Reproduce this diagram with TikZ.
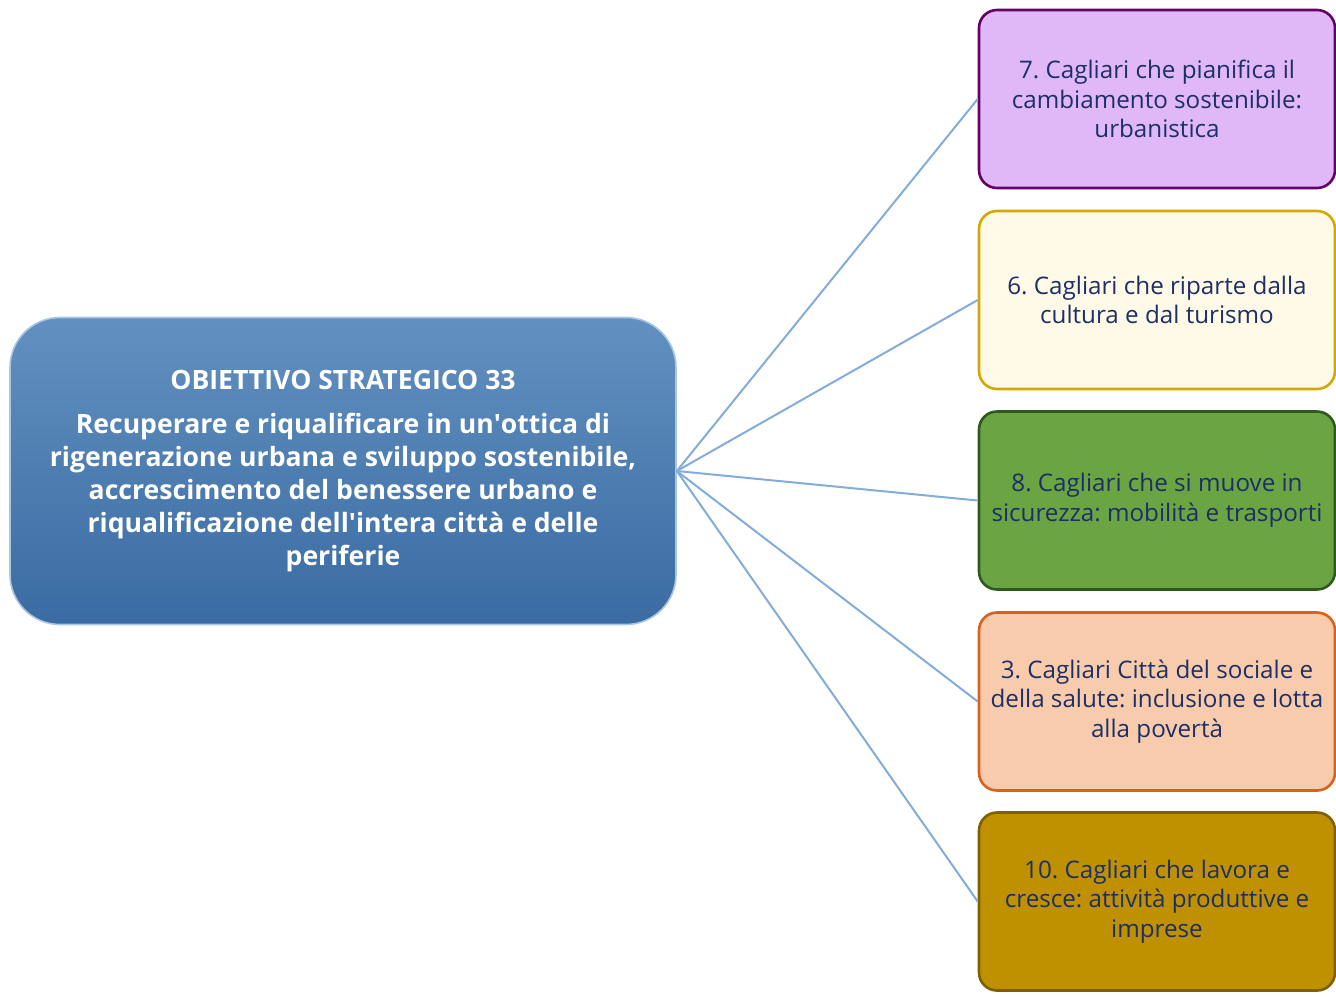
\documentclass[tikz,border=0pt]{standalone}
\usepackage{fontspec}
\setmainfont{Open Sans}
\usetikzlibrary{positioning}
\definecolor{linkblue}{HTML}{83ACDB}
\definecolor{navytext}{HTML}{1C2F66}
\definecolor{mainTop}{HTML}{6290C0}
\definecolor{mainBot}{HTML}{3A6BA2}
\definecolor{mainEdge}{HTML}{A9C6E4}
\frenchspacing
\begin{document}
\begin{tikzpicture}
    [x=0.5pt, y=-0.5pt,
    link/.style={linkblue, line width=1pt},
    goal/.style={rounded corners=25pt, draw=mainEdge, line width=0.8pt, top color=mainTop, bottom color=mainBot,
        minimum width=333pt, minimum height=153.5pt, align=center, text=white,
        font=\bfseries\fontsize{13.3}{16.5}\selectfont},
    area/.style={rounded corners=9pt, line width=1.3pt, minimum width=178pt, minimum height=89pt,
        align=center, text=navytext, font=\fontsize{12.1}{14.8}\selectfont}]
        \useasboundingbox (0,0) rectangle (1336,996);
        % Main objective
        \node[goal] (O) at (343,471) {OBIETTIVO STRATEGICO 33\\[5.5pt]
            Recuperare e riqualificare in un\textquotesingle ottica di\\
            rigenerazione urbana e sviluppo sostenibile,\\
            accrescimento del benessere urbano e\\
            riqualificazione dell\textquotesingle intera città e delle\\
            periferie};

        % Linked areas
        \node[area, draw=violet!80!black, fill={rgb,255:red,224;green,184;blue,248}] (C7) at (1157,99) {7. Cagliari che pianifica il\\ cambiamento sostenibile:\\ urbanistica};
        \node[area, draw={rgb,255:red,212;green,168;blue,0}, fill={rgb,255:red,255;green,249;blue,232}] (C6) at (1157,300) {6. Cagliari che riparte dalla\\ cultura e dal turismo};
        \node[area, draw={rgb,255:red,47;green,90;blue,30}, fill={rgb,255:red,106;green,164;blue,67}] (C8) at (1157,500.5) {8. Cagliari che si muove in\\ sicurezza: mobilità e trasporti};
        \node[area, draw={rgb,255:red,217;green,98;blue,26}, fill={rgb,255:red,248;green,203;blue,173}] (C3) at (1157,701.5) {3. Cagliari Città del sociale e\\ della salute: inclusione e lotta\\ alla povertà};
        \node[area, draw={rgb,255:red,127;green,96;blue,0}, fill={rgb,255:red,191;green,144;blue,0}] (C10) at (1157,901.5) {10. Cagliari che lavora e\\ cresce: attività produttive e\\ imprese};

        \draw[link] (O.east) -- (C7.west);
        \draw[link] (O.east) -- (C6.west);
        \draw[link] (O.east) -- (C8.west);
        \draw[link] (O.east) -- (C3.west);
        \draw[link] (O.east) -- (C10.west);
    \end{tikzpicture}
\end{document}
